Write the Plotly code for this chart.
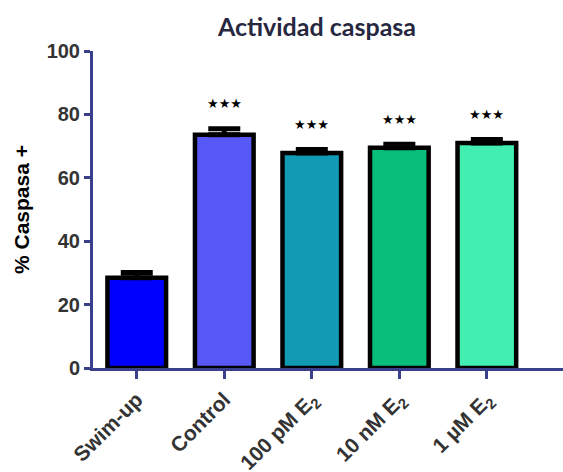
import plotly.graph_objects as go

# Caspase activity per treatment group (mean and SEM, %)
groups = ["Swim-up", "Control", "100 pM E<sub>2</sub>", "10 nM E<sub>2</sub>", "1 µM E<sub>2</sub>"]
means = [28.5, 73.6, 67.8, 69.5, 71.0]
sems = [1.6, 1.9, 1.1, 1.1, 1.1]
signif = ["", "★★★", "★★★", "★★★", "★★★"]
bar_colors = ["#0000ff", "#5858f7", "#119ab4", "#07be7a", "#43efb0"]

y_ticks = [0, 20, 40, 60, 80, 100]
axis_color = "#3a3f8c"
font_family = "Liberation Sans, Arial"

xpos = list(range(len(groups)))

fig = go.Figure()
fig.add_trace(go.Bar(
    x=xpos,
    y=means,
    width=0.67,
    marker=dict(color=bar_colors, line=dict(color="black", width=4.5)),
    error_y=dict(type="data", array=sems, symmetric=False, arrayminus=[0] * len(sems),
                 color="black", thickness=5, width=16),
    showlegend=False,
))

for xi, m, s, lab in zip(xpos, means, sems, signif):
    if lab:
        fig.add_annotation(x=xi, y=m + s, text=lab, showarrow=False,
                           yanchor="middle", yshift=25,
                           font=dict(family="DejaVu Sans", size=13, color="black"))

fig.update_layout(
    width=563, height=472,
    margin=dict(l=93, r=0, t=51, b=104),
    plot_bgcolor="white", paper_bgcolor="white",
    title=dict(text="<b>Actividad caspasa</b>", x=0.563, xanchor="center",
               y=0.942, yanchor="middle",
               font=dict(family="Lato", size=25, color="#27283f")),
)
fig.update_xaxes(
    automargin=False,
    range=[-0.5, 4.87],
    tickmode="array", tickvals=xpos, ticktext=[f"<b>{g}</b>" for g in groups],
    tickangle=-45, tickfont=dict(family=font_family, size=21, color="#333333"),
    showline=True, linecolor=axis_color, linewidth=3,
    ticks="outside", ticklen=8, tickwidth=3, tickcolor=axis_color,
    showgrid=False, zeroline=False,
)
fig.update_yaxes(
    automargin=False,
    range=[0, 100],
    tickmode="array", tickvals=y_ticks, ticktext=[f"<b>{v}</b>" for v in y_ticks],
    tickfont=dict(family=font_family, size=20, color="#333333"),
    showline=True, linecolor=axis_color, linewidth=3,
    ticks="outside", ticklen=6, tickwidth=3, tickcolor=axis_color,
    showgrid=False, zeroline=False,
    title=dict(text="<b>% Caspasa +</b>", standoff=12,
               font=dict(family=font_family, size=21, color="black")),
)

fig.write_html("out.html")
